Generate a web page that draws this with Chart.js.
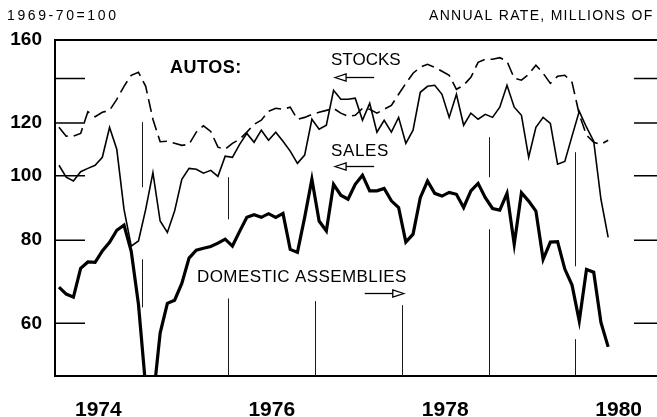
<!DOCTYPE html>
<html>
<head>
<meta charset="utf-8">
<title>Autos: stocks, sales and domestic assemblies</title>
<script src="https://cdn.jsdelivr.net/npm/chart.js@4.4.0/dist/chart.umd.min.js"></script>
<style>
  html, body { margin: 0; padding: 0; background: #fff; overflow: hidden; }
  #wrap { width: 670px; height: 417px; position: relative; }
</style>
</head>
<body>
<div id="wrap"><canvas id="autosChart"></canvas></div>
<script>
// monthly series, Jan 1974 - May 1980 (index 1969-70 = 100)
const startYear = 1974;

const stocks = [
  118.3, 114.7, 114.7, 115.8, 124.8, 122.7, 124.6, 125.4, 130.3, 136.3, 141.6, 143.1,
  136.3, 121.6, 112.5, 112.7, 111.9, 111.1, 111.5, 116.3, 118.9, 116.6, 110.4, 109.6,
  111.9, 113.5, 116.3, 119.5, 121.2, 125.0, 126.3, 125.9, 126.8, 121.6, 122.4, 123.7,
  124.6, 125.4, 126.3, 124.2, 122.9, 123.3, 126.3, 125.9, 124.2, 125.9, 127.6, 132.6,
  137.7, 142.6, 145.6, 147.1, 145.6, 143.6, 141.6, 134.9, 136.8, 140.6, 148.1, 149.7,
  149.7, 150.5, 148.6, 140.2, 139.2, 142.1, 146.6, 142.6, 137.7, 141.1, 141.6, 138.2,
  123.7, 115.1, 112.3, 111.5, 113.1
];

const sales = [
  103.7, 99.5, 98.2, 101.4, 102.6, 103.7, 106.6, 118.2, 109.6, 89.0, 78.4, 79.8,
  89.0, 101.1, 85.5, 82.2, 88.5, 98.8, 102.6, 102.3, 100.9, 101.9, 99.8, 107.0,
  106.6, 111.5, 115.8, 112.3, 117.1, 113.1, 116.3, 112.7, 108.9, 104.4, 107.4, 121.6,
  117.5, 119.1, 134.4, 130.3, 130.3, 130.8, 121.2, 128.5, 116.3, 121.2, 116.3, 122.4,
  111.9, 117.1, 133.5, 136.3, 136.8, 132.6, 122.4, 132.6, 119.1, 124.2, 121.6, 123.7,
  122.4, 126.8, 136.8, 126.8, 123.3, 106.6, 118.3, 122.4, 119.9, 104.1, 105.1, 114.7,
  125.0, 118.3, 112.7, 92.2, 80.8
];

const assemblies = [
  68.0, 66.4, 65.7, 72.6, 74.2, 74.1, 77.1, 79.4, 82.8, 84.3, 77.0, 64.1,
  48.1, 45.7, 58.0, 64.3, 65.0, 68.9, 75.2, 77.3, 77.8, 78.3, 79.2, 80.3,
  78.4, 82.5, 86.6, 87.4, 86.6, 87.7, 86.6, 87.8, 77.5, 76.7, 86.6, 98.8,
  85.5, 82.6, 97.1, 93.5, 92.2, 97.1, 100.2, 94.9, 94.9, 95.7, 91.7, 89.6,
  79.5, 81.7, 92.7, 98.2, 94.1, 93.2, 94.4, 93.8, 89.6, 94.9, 97.4, 92.7,
  89.3, 88.8, 94.1, 78.9, 94.3, 91.6, 88.5, 74.9, 79.5, 79.6, 72.4, 68.5,
  60.5, 72.3, 71.6, 60.2, 55.3
];

const yTicks = [60, 80, 100, 120, 140, 160];
const yTickLabels = ['60', '80', '100', '120', '', '160'];
const yearLabels = ['1974', '1976', '1978', '1980'];

// year dividers, drawn only where the curves leave room: [year, from, to]
const yearDividers = [
  [1975, 96.1, 120.4], [1975, 63.4, 74.9],
  [1976, 86.0, 99.5], [1976, 50, 65.4],
  [1977, 50, 64.8],
  [1978, 50, 63.9],
  [1979, 99.5, 114.3], [1979, 50, 83.1],
  [1980, 73.1, 108.5], [1980, 50, 56.8]
];

const FONT = "'Liberation Sans', Arial, Helvetica, sans-serif";

// in-plot labels and arrows, placed in data units
const notes = [
  { text: 'AUTOS:', x: 1975.326, y: 145.1, size: 18, bold: true, spacing: 0.5 },
  { text: 'STOCKS', x: 1977.183, y: 148.9, size: 17, spacing: 0 },
  { text: 'SALES', x: 1977.183, y: 108.9, size: 17, spacing: 0.6 },
  { text: 'DOMESTIC ASSEMBLIES', x: 1975.638, y: 70.4, size: 17, spacing: 0.4 }
];
const arrows = [
  { from: 1977.23, to: 1977.68, y: 140.6, head: 'left' },
  { from: 1977.23, to: 1977.68, y: 103.3, head: 'left' },
  { from: 1977.572, to: 1978.022, y: 66.6, head: 'right' }
];

function toPoints(values) {
  return values.map((v, i) => ({ x: startYear + (i + 0.55) / 12, y: v }));
}

function drawArrow(ctx, x1, x2, py, head) {
  const len = 11, half = 3.5;
  ctx.beginPath();
  if (head === 'left') {
    ctx.moveTo(x1 + len, py); ctx.lineTo(x2, py);
    ctx.stroke();
    ctx.beginPath();
    ctx.moveTo(x1, py); ctx.lineTo(x1 + len, py - half); ctx.lineTo(x1 + len, py + half); ctx.closePath();
  } else {
    ctx.moveTo(x1, py); ctx.lineTo(x2 - len, py);
    ctx.stroke();
    ctx.beginPath();
    ctx.moveTo(x2, py); ctx.lineTo(x2 - len, py - half); ctx.lineTo(x2 - len, py + half); ctx.closePath();
  }
  ctx.fillStyle = '#fff';
  ctx.fill();
  ctx.stroke();
}

const decorPlugin = {
  id: 'decor',
  beforeDatasetsDraw(chart) {
    const { ctx, chartArea: a, scales: { x, y } } = chart;
    ctx.save();
    ctx.strokeStyle = '#1a1a1a';
    ctx.lineWidth = 1;
    yearDividers.forEach(([yr, lo, hi]) => {
      const px = Math.round(x.getPixelForValue(yr)) + 0.5;
      ctx.beginPath();
      ctx.moveTo(px, y.getPixelForValue(lo));
      ctx.lineTo(px, y.getPixelForValue(hi));
      ctx.stroke();
    });
    // short inner ticks on both sides
    ctx.strokeStyle = '#000';
    ctx.lineWidth = 1.5;
    yTicks.forEach(v => {
      if (v >= 160) return;
      const py = y.getPixelForValue(v);
      ctx.beginPath();
      ctx.moveTo(a.left, py); ctx.lineTo(a.left + 30, py);
      ctx.moveTo(a.right - 28, py); ctx.lineTo(a.right, py);
      ctx.stroke();
    });
    // top and right frame
    ctx.lineWidth = 2;
    ctx.beginPath();
    ctx.moveTo(a.left, a.top); ctx.lineTo(a.right, a.top); ctx.lineTo(a.right, a.bottom);
    ctx.stroke();
    ctx.restore();
  },
  afterDatasetsDraw(chart) {
    const { ctx, scales: { x, y } } = chart;
    ctx.save();
    ctx.fillStyle = '#000';
    ctx.textAlign = 'left';
    ctx.textBaseline = 'middle';
    notes.forEach(n => {
      ctx.font = (n.bold ? 'bold ' : '') + n.size + 'px ' + FONT;
      ctx.letterSpacing = n.spacing + 'px';
      ctx.fillText(n.text, x.getPixelForValue(n.x), y.getPixelForValue(n.y));
    });
    ctx.letterSpacing = '0px';
    ctx.strokeStyle = '#000';
    ctx.lineWidth = 1.3;
    arrows.forEach(ar => {
      drawArrow(ctx, x.getPixelForValue(ar.from), x.getPixelForValue(ar.to),
        Math.round(y.getPixelForValue(ar.y)) + 0.5, ar.head);
    });
    ctx.restore();
  },
  afterDraw(chart) {
    const { ctx } = chart;
    ctx.save();
    ctx.fillStyle = '#000';
    ctx.textBaseline = 'middle';
    ctx.font = '14px ' + FONT;
    ctx.letterSpacing = '2.6px';
    ctx.fillText('1969-70=100', 7, 16);
    ctx.letterSpacing = '1.3px';
    ctx.fillText('ANNUAL RATE, MILLIONS OF', 429, 16);
    ctx.restore();
  }
};

new Chart(document.getElementById('autosChart'), {
  type: 'line',
  data: {
    datasets: [
      {
        label: 'Stocks',
        data: toPoints(stocks),
        borderColor: '#000',
        borderWidth: 1.6,
        borderDash: [13, 6],
        pointRadius: 0,
        tension: 0,
        fill: false
      },
      {
        label: 'Sales',
        data: toPoints(sales),
        borderColor: '#000',
        borderWidth: 1.6,
        pointRadius: 0,
        tension: 0,
        fill: false
      },
      {
        label: 'Domestic assemblies',
        data: toPoints(assemblies),
        borderColor: '#000',
        borderWidth: 3.2,
        pointRadius: 0,
        tension: 0,
        fill: false
      }
    ]
  },
  options: {
    responsive: true,
    maintainAspectRatio: false,
    animation: false,
    events: [],
    layout: { padding: { top: 40, right: 8, left: 0, bottom: 0 } },
    plugins: {
      legend: { display: false },
      tooltip: { enabled: false }
    },
    scales: {
      x: {
        type: 'linear',
        min: 1974,
        max: 1981,
        grid: { display: false },
        border: { display: true, color: '#000', width: 2 },
        afterBuildTicks: scale => {
          scale.ticks = yearLabels.map(l => ({ value: Number(l) + 0.5 }));
        },
        afterFit: scale => { scale.height = 41; },
        ticks: {
          autoSkip: false,
          maxRotation: 0,
          padding: 14,
          color: '#000',
          font: { family: FONT, size: 21, weight: 'bold' },
          callback: (val, i) => yearLabels[i]
        }
      },
      y: {
        type: 'logarithmic',
        min: 50,
        max: 160,
        grid: { display: false },
        border: { display: true, color: '#000', width: 2 },
        afterBuildTicks: scale => {
          scale.ticks = yTicks.map(v => ({ value: v }));
        },
        afterFit: scale => { scale.width = 55; },
        ticks: {
          padding: 5,
          color: '#000',
          font: { family: FONT, size: 19, weight: 'bold' },
          callback: (val, i) => yTickLabels[i]
        }
      }
    }
  },
  plugins: [decorPlugin]
});
</script>
</body>
</html>
